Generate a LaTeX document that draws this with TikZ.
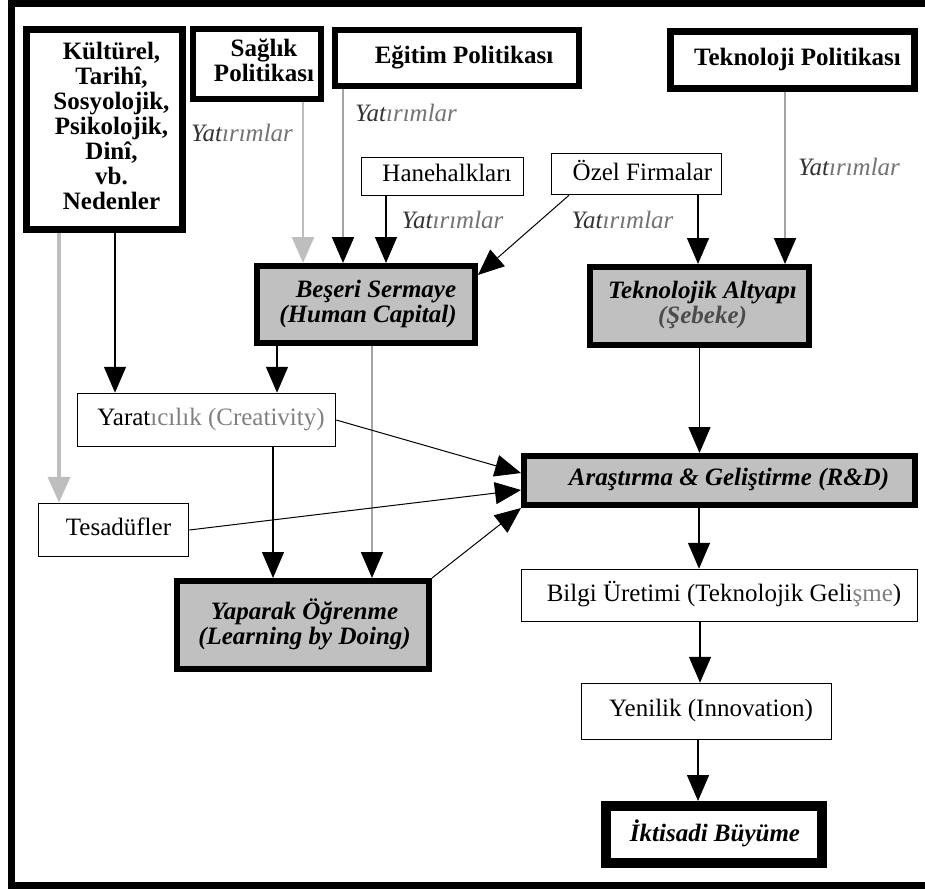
\documentclass[tikz,border=0pt]{standalone}
\usepackage{fontspec}
\setmainfont{Liberation Serif}
\usetikzlibrary{arrows.meta}

\definecolor{boxgray}{HTML}{C0C0C0}
\definecolor{palegray}{HTML}{BEBEBE}
\definecolor{midgray}{HTML}{A4A4A4}
\definecolor{softtext}{HTML}{808080}

% "Yatırımlar" (investments) label text
\newcommand\yatlabel{{\color{black!80}Yat}{\color{black!55}ırımlar}}
% box text set a little right of the box centre
\newcommand\offsettext[2][10pt]{\hspace*{#1}\begin{tabular}{@{}c@{}}#2\end{tabular}}

\begin{document}
\begin{tikzpicture}[x=1pt,y=-1pt,
  every node/.style={font=\fontsize{25}{25}\selectfont, inner sep=0pt, align=center},
  thinbox/.style={draw, line width=1.5pt, fill=white},
  policybox/.style={draw, line width=6.5pt, fill=white,
    font=\fontsize{25}{25}\selectfont\bfseries},
  corebox/.style={draw, line width=6pt, fill=boxgray,
    font=\fontsize{25}{25}\selectfont\bfseries\itshape},
  goalbox/.style={draw, line width=10pt, fill=white,
    font=\fontsize{25}{25}\selectfont\bfseries\itshape},
  invlabel/.style={font=\fontsize{25}{25}\selectfont\itshape},
  tipblack/.style={-{Triangle[width=22pt,length=26pt,color=black,fill=black]}},
  tipgray/.style={-{Triangle[width=22pt,length=26pt,color=palegray,fill=palegray]}},
  flow/.style={line width=1.3pt, tipblack},
  grayflow/.style={draw=midgray, line width=2pt, tipblack},
  paleflow/.style={draw=palegray, tipgray},
  feed/.style={line width=1pt, tipblack}
]
\path[use as bounding box, clip] (0,0) rectangle (925,889);

% outer frame (right side lies beyond the page edge)
\draw[line width=7pt] (11.5,3.5) rectangle (940,885.5);

% policy / cause boxes
\node[policybox, line width=7pt, minimum width=156pt, minimum height=200pt] (kul) at (104.5,129.5)
  {\offsettext[14pt]{Kültürel,\\Tarihî,\\Sosyolojik,\\Psikolojik,\\Dinî,\\vb.\\Nedenler}};
\node[policybox, minimum width=128pt, minimum height=70pt] (sag) at (257,64)
  {\offsettext[14pt]{Sağlık\\Politikası}};
\node[policybox, line width=6pt, minimum width=244pt, minimum height=56pt] (egi) at (457,58)
  {\offsettext[14pt]{Eğitim Politikası}};
\node[policybox, line width=7pt, minimum width=244pt, minimum height=57pt] (tpol) at (792.5,60)
  {\offsettext{Teknoloji Politikası}};

% actors
\node[thinbox, minimum width=162pt, minimum height=38pt] (hane) at (442.5,176.5)
  {\offsettext[9pt]{Hanehalkları}};
\node[thinbox, minimum width=170pt, minimum height=41pt] (ozel) at (636.5,174)
  {\offsettext[12pt]{Özel Firmalar}};

% capital and infrastructure
\node[corebox, minimum width=218pt, minimum height=77pt] (bes) at (366,304.5)
  {\offsettext[4pt]{\hspace*{16pt}Beşeri Sermaye\\(Human Capital)}};
\node[corebox, minimum width=219pt, minimum height=78pt] (tek) at (699.5,306)
  {\offsettext[6pt]{Teknolojik Altyapı\\{\color{black!70}(Şebeke)}}};

% left-hand chain
\node[thinbox, minimum width=258pt, minimum height=53pt] (yar) at (206.5,420)
  {\offsettext[9pt]{Yarat{\color{softtext}ıcılık (Creativity)}}};
\node[thinbox, minimum width=150pt, minimum height=53pt] (tes) at (113.5,530)
  {\offsettext{Tesadüfler}};
\node[corebox, minimum width=252pt, minimum height=88pt] (yap) at (303,625)
  {\offsettext[3pt]{Yaparak Öğrenme\\(Learning by Doing)}};

% right-hand chain
\node[corebox, minimum width=391pt, minimum height=49pt] (ard) at (719.5,480.5)
  {\offsettext[19pt]{Araştırma \& Geliştirme (R\&D)}};
\node[thinbox, minimum width=396pt, minimum height=52pt] (bil) at (719.5,595.5)
  {\offsettext[9pt]{Bilgi Üretimi (Teknolojik Geli{\color{softtext}şme})}};
\node[thinbox, minimum width=250pt, minimum height=56pt] (yen) at (706.5,711.5)
  {\offsettext[9pt]{Yenilik (Innovation)}};
\node[goalbox, minimum width=216pt, minimum height=57pt] (ikt) at (714,834.5)
  {\offsettext[2pt]{İktisadi Büyüme}};

% investment labels
\node[invlabel] (yat1) at (242,133) {\yatlabel};
\node[invlabel] (yat2) at (406,113) {\yatlabel};
\node[invlabel] (yat3) at (452.5,220) {\yatlabel};
\node[invlabel] (yat4) at (622.5,220) {\yatlabel};
\node[invlabel] (yat5) at (849,167) {\yatlabel};

% connectors into human capital
\draw[paleflow, line width=2.7pt] ([xshift=46pt]sag.south) -- ([xshift=46pt]sag.south |- bes.north);
\draw[grayflow] ([xshift=-114pt]egi.south) -- ([xshift=-114pt]egi.south |- bes.north);
\draw[flow] ([xshift=-56.5pt]hane.south) -- ([xshift=-56.5pt]hane.south |- bes.north);
\draw[flow, line width=1pt] ([xshift=-67.5pt]ozel.south) -- ([yshift=-12pt]bes.north east);

% connectors into technological infrastructure
\draw[flow] ([xshift=61.5pt]ozel.south) -- ([xshift=61.5pt]ozel.south |- tek.north);
\draw[grayflow] ([xshift=-7.5pt]tpol.south) -- ([xshift=-7.5pt]tpol.south |- tek.north);

% causes
\draw[paleflow, line width=4pt] ([xshift=-45.5pt]kul.south) -- ([xshift=-45.5pt]kul.south |- tes.north);
\draw[flow] ([xshift=10.5pt]kul.south) -- ([xshift=10.5pt]kul.south |- yar.north);

% human capital outputs
\draw[flow] ([xshift=-89pt]bes.south) -- ([xshift=-89pt]bes.south |- yar.north);
\draw[grayflow] ([xshift=6pt]bes.south) -- ([xshift=6pt]bes.south |- yap.north);
\draw[flow] ([xshift=66.5pt]yar.south) -- ([xshift=66.5pt]yar.south |- yap.north);

% feeds into R&D
\draw[feed] (yar.east) -- ([yshift=7.5pt]ard.west);
\draw[feed] (tes.east) -- ([yshift=-9.5pt]ard.west);
\draw[feed] (yap.north east) -- (ard.south west);
\draw[flow] (tek.south) -- (tek.south |- ard.north);

% main chain to growth
\draw[flow] ([xshift=-20.5pt]ard.south) -- ([xshift=-20.5pt]ard.south |- bil.north);
\draw[flow] ([xshift=-19.5pt]bil.south) -- ([xshift=-19.5pt]bil.south |- yen.north);
\draw[flow] ([xshift=-8.5pt]yen.south) -- ([xshift=-8.5pt]yen.south |- ikt.north);
\end{tikzpicture}
\end{document}
